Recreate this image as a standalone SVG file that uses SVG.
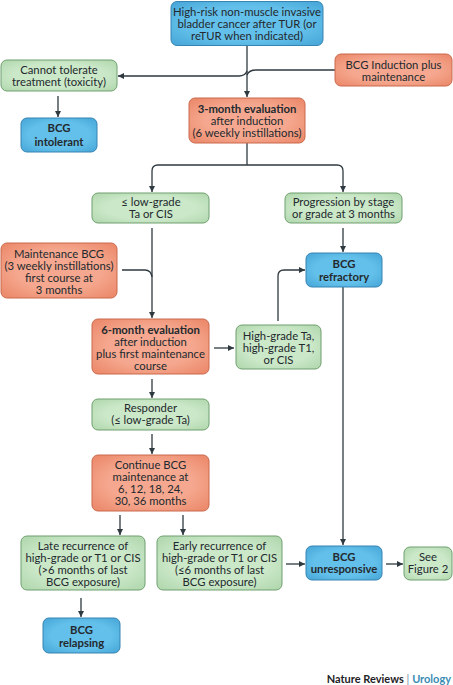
<svg xmlns="http://www.w3.org/2000/svg" width="453" height="685" viewBox="0 0 453 685">
<defs>
<radialGradient id="gBlue" cx="50%" cy="50%" r="65%"><stop offset="0.6" stop-color="#63c0ea"/><stop offset="1" stop-color="#4aa9da"/></radialGradient>
<radialGradient id="gGreen" cx="50%" cy="50%" r="65%"><stop offset="0.6" stop-color="#cbe8c8"/><stop offset="1" stop-color="#b3d9b0"/></radialGradient>
<radialGradient id="gOrange" cx="50%" cy="50%" r="65%"><stop offset="0.55" stop-color="#f5a88f"/><stop offset="1" stop-color="#ec8a6c"/></radialGradient>
<marker id="arr" viewBox="0 0 10 10" refX="10" refY="5" markerWidth="6" markerHeight="6" markerUnits="userSpaceOnUse" orient="auto"><path d="M0,0 L10,5 L0,10 z" fill="#2f3a40"/></marker>
</defs>
<style>
.blue{fill:url(#gBlue);stroke:#3684b0;stroke-width:1}
.green{fill:url(#gGreen);stroke:#6f9f6e;stroke-width:1}
.orange{fill:url(#gOrange);stroke:#c9694d;stroke-width:1}
text{font-family:"Lato","Noto Sans","Liberation Sans",sans-serif;font-size:11.3px;fill:#23292e;text-anchor:middle}
.b{font-weight:bold}
.c{fill:none;stroke:#2f3a40;stroke-width:1.3}
.a{marker-end:url(#arr)}
</style>
<g id="connectors">
<path class="c a" d="M247,46 V97"/>
<path class="c" d="M335,70 H256 Q249,70 247,75"/>
<path class="c a" d="M247,71 Q245,76 239,76 H118"/>
<path class="c a" d="M58,96 V117"/>
<path class="c" d="M247,143 V165"/>
<path class="c a" d="M247,165 H158 Q152,165 152,171 V192"/>
<path class="c a" d="M247,165 H337 Q343,165 343,171 V192"/>
<path class="c a" d="M343,228 V252"/>
<path class="c a" d="M152,228 V318"/>
<path class="c" d="M122,270 H145 Q151,270 152,277"/>
<path class="c a" d="M278,321 V276 Q278,270 284,270 H305"/>
<path class="c a" d="M343,287 V545"/>
<path class="c a" d="M214,348 H234"/>
<path class="c a" d="M152,379 V398"/>
<path class="c a" d="M152,434 V454"/>
<path class="c a" d="M120,515 V535"/>
<path class="c a" d="M183,515 V535"/>
<path class="c a" d="M286,564 H305"/>
<path class="c a" d="M386,564 H403"/>
<path class="c a" d="M81,598 V617"/>
</g>
<g id="n-top"><rect class="blue" x="171" y="1.5" width="152" height="44" rx="6"/>
<text x="247" y="15.5">High-risk non-muscle invasive</text><text x="247" y="27.5">bladder cancer after TUR (or</text><text x="247" y="39.5">reTUR when indicated)</text></g>
<g id="n-cannot"><rect class="green" x="1" y="60" width="116" height="31" rx="6"/>
<text x="59" y="74">Cannot tolerate</text><text x="59" y="86">treatment (toxicity)</text></g>
<g id="n-intolerant"><rect class="blue" x="21" y="118" width="76" height="34" rx="6"/>
<text class="b" x="59" y="132">BCG</text><text class="b" x="59" y="146">intolerant</text></g>
<g id="n-induction"><rect class="orange" x="335" y="54" width="117" height="32" rx="6"/>
<text x="393.5" y="69">BCG Induction plus</text><text x="393.5" y="81">maintenance</text></g>
<g id="n-eval3"><rect class="orange" x="189" y="98" width="116" height="45" rx="6"/>
<text class="b" x="247" y="112.5">3-month evaluation</text><text x="247" y="124.5">after induction</text><text x="247" y="136.5">(6 weekly instillations)</text></g>
<g id="n-lowgrade"><rect class="green" x="92" y="193" width="117" height="30" rx="6"/>
<text x="151" y="206">≤ low-grade</text><text x="151" y="218">Ta or CIS</text></g>
<g id="n-progression"><rect class="green" x="285" y="193" width="117" height="30" rx="6"/>
<text x="343.5" y="206">Progression by stage</text><text x="343.5" y="218">or grade at 3 months</text></g>
<g id="n-refractory"><rect class="blue" x="306" y="253" width="76" height="34" rx="6"/>
<text class="b" x="344" y="268">BCG</text><text class="b" x="344" y="281">refractory</text></g>
<g id="n-maintenance"><rect class="orange" x="1" y="243" width="116" height="55" rx="6"/>
<text x="59" y="258">Maintenance BCG</text><text x="59" y="270">(3 weekly instillations)</text><text x="59" y="282">first course at</text><text x="59" y="294">3 months</text></g>
<g id="n-eval6"><rect class="orange" x="92" y="319" width="117" height="55" rx="6"/>
<text class="b" x="150.5" y="334">6-month evaluation</text><text x="150.5" y="346">after induction</text><text x="150.5" y="358">plus first maintenance</text><text x="150.5" y="370">course</text></g>
<g id="n-highgrade"><rect class="green" x="236" y="325" width="85" height="44" rx="6"/>
<text x="278.5" y="340">High-grade Ta,</text><text x="278.5" y="352">high-grade T1,</text><text x="278.5" y="364">or CIS</text></g>
<g id="n-responder"><rect class="green" x="92" y="399" width="117" height="31" rx="6"/>
<text x="150.5" y="412">Responder</text><text x="150.5" y="424">(≤ low-grade Ta)</text></g>
<g id="n-continue"><rect class="orange" x="92" y="455" width="117" height="56" rx="6"/>
<text x="150.5" y="469">Continue BCG</text><text x="150.5" y="481">maintenance at</text><text x="150.5" y="493">6, 12, 18, 24,</text><text x="150.5" y="505">30, 36 months</text></g>
<g id="n-late"><rect class="green" x="21" y="536" width="124" height="54" rx="6"/>
<text x="83" y="550">Late recurrence of</text><text x="83" y="562">high-grade or T1 or CIS</text><text x="83" y="574">(&gt;6 months of last</text><text x="83" y="586">BCG exposure)</text></g>
<g id="n-early"><rect class="green" x="157" y="536" width="125" height="54" rx="6"/>
<text x="219.5" y="550">Early recurrence of</text><text x="219.5" y="562">high-grade or T1 or CIS</text><text x="219.5" y="574">(≤6 months of last</text><text x="219.5" y="586">BCG exposure)</text></g>
<g id="n-unresponsive"><rect class="blue" x="306" y="546" width="76" height="34" rx="6"/>
<text class="b" x="344" y="561">BCG</text><text class="b" x="344" y="573">unresponsive</text></g>
<g id="n-seefig"><rect class="green" x="404" y="547" width="48" height="33" rx="6"/>
<text x="428" y="561">See</text><text x="428" y="573">Figure 2</text></g>
<g id="n-relapsing"><rect class="blue" x="43" y="618" width="77" height="35" rx="6"/>
<text class="b" x="81.5" y="634">BCG</text><text class="b" x="81.5" y="647">relapsing</text></g>
<text x="451" y="683" style="text-anchor:end;font-size:11px"><tspan class="b" fill="#1e2226">Nature Reviews</tspan><tspan fill="#6f8fa0"> | </tspan><tspan fill="#3a8db5" font-weight="bold">Urology</tspan></text>
</svg>
